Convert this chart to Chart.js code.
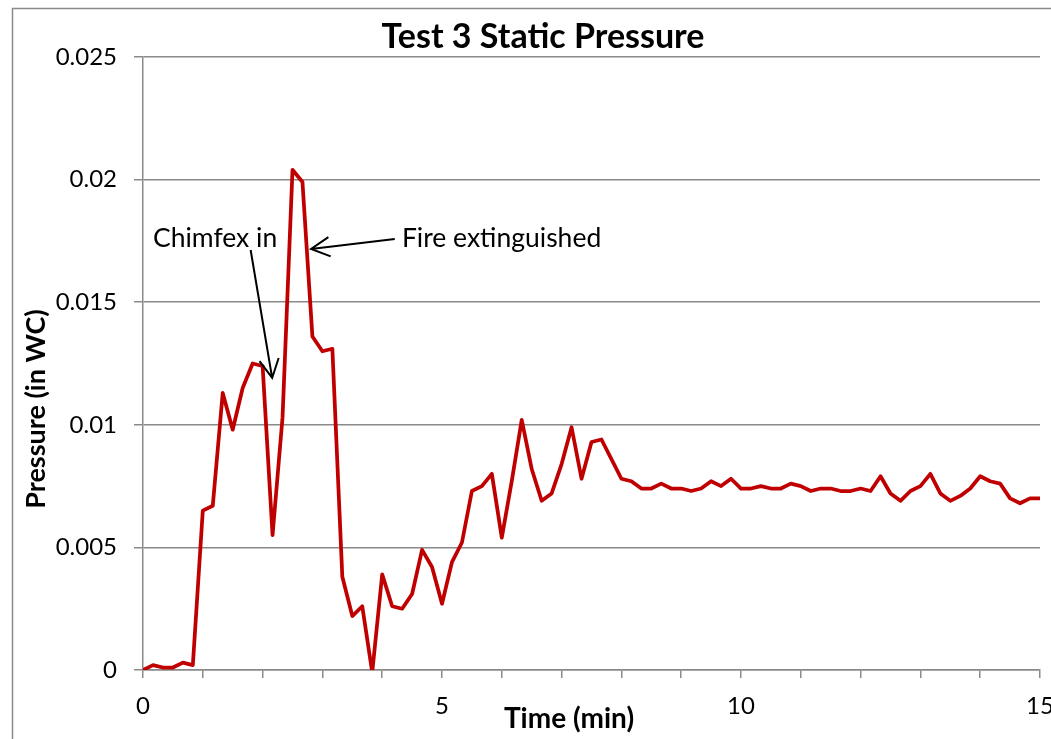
<!DOCTYPE html>
<html>
<head>
<meta charset="utf-8">
<script src="https://cdn.jsdelivr.net/npm/chart.js@4.4.0/dist/chart.umd.min.js"></script>
<style>
  html, body { margin: 0; padding: 0; background: #fff; overflow: hidden; }
  #wrap { width: 1051px; height: 739px; }
</style>
</head>
<body>
<div id="wrap"><canvas id="myChart" width="1051" height="739"></canvas></div>
<script>
// time of each reading, seconds
const timeSec = [
  0, 10, 20, 30, 40, 50, 60, 70, 80, 90,
  100, 110, 120, 130, 140, 150, 160, 170, 180, 190,
  200, 210, 220, 230, 240, 250, 260, 270, 280, 290,
  300, 310, 320, 330, 340, 350, 360, 370, 380, 390,
  400, 410, 420, 430, 440, 450, 460, 470, 480, 490,
  500, 510, 520, 530, 540, 550, 560, 570, 580, 590,
  600, 610, 620, 630, 640, 650, 660, 670, 680, 690,
  700, 710, 720, 730, 740, 750, 760, 770, 780, 790,
  800, 810, 820, 830, 840, 850, 860, 870, 880, 890,
  900
];

// static pressure, in WC
const pressure = [
  0, 0.0002, 0.0001, 0.0001, 0.0003, 0.0002, 0.0065, 0.0067, 0.0113, 0.0098,
  0.0115, 0.0125, 0.0124, 0.0055, 0.0103, 0.0204, 0.0199, 0.0136, 0.0130, 0.0131,
  0.0038, 0.0022, 0.0026, -0.0001, 0.0039, 0.0026, 0.0025, 0.0031, 0.0049, 0.0042,
  0.0027, 0.0044, 0.0052, 0.0073, 0.0075, 0.0080, 0.0054, 0.0077, 0.0102, 0.0082,
  0.0069, 0.0072, 0.0084, 0.0099, 0.0078, 0.0093, 0.0094, 0.0086, 0.0078, 0.0077,
  0.0074, 0.0074, 0.0076, 0.0074, 0.0074, 0.0073, 0.0074, 0.0077, 0.0075, 0.0078,
  0.0074, 0.0074, 0.0075, 0.0074, 0.0074, 0.0076, 0.0075, 0.0073, 0.0074, 0.0074,
  0.0073, 0.0073, 0.0074, 0.0073, 0.0079, 0.0072, 0.0069, 0.0073, 0.0075, 0.0080,
  0.0072, 0.0069, 0.0071, 0.0074, 0.0079, 0.0077, 0.0076, 0.0070, 0.0068, 0.0070,
  0.0070
];

const xLabelTicks = [0, 5, 10, 15];
const yTickValues = [0, 0.005, 0.01, 0.015, 0.02, 0.025];

const chartTitle = 'Test 3 Static Pressure';
const xTitle = 'Time (min)';
const yTitle = 'Pressure (in WC)';

// callouts, anchored in data units (min, in WC)
const notes = [
  { text: 'Chimfex in', at: [0.167, 0.01725], from: [1.80, 0.01713], to: [2.16, 0.01191] },
  { text: 'Fire extinguished', at: [4.33, 0.01725], from: [4.21, 0.01758], to: [2.81, 0.01717] }
];

const gridGrey = '#8a8a8a';
const fontName = 'Lato';

const points = timeSec.map((s, i) => ({ x: s / 60, y: pressure[i] }));

const drawArrow = (ctx, x1, y1, x2, y2, head) => {
  const ang = Math.atan2(y2 - y1, x2 - x1);
  ctx.beginPath();
  ctx.moveTo(x1, y1);
  ctx.lineTo(x2, y2);
  ctx.moveTo(x2 - head * Math.cos(ang - 0.48), y2 - head * Math.sin(ang - 0.48));
  ctx.lineTo(x2, y2);
  ctx.lineTo(x2 - head * Math.cos(ang + 0.48), y2 - head * Math.sin(ang + 0.48));
  ctx.stroke();
};

const extrasPlugin = {
  id: 'extras',
  beforeDraw(chart) {
    const ctx = chart.ctx;
    ctx.save();
    ctx.fillStyle = '#fff';
    ctx.fillRect(0, 0, chart.width, chart.height);
    ctx.strokeStyle = gridGrey;
    ctx.lineWidth = 1.5;
    ctx.strokeRect(12.5, 8.5, chart.width + 40, chart.height + 40);
    ctx.restore();
  },
  afterDraw(chart) {
    const ctx = chart.ctx;
    const xs = chart.scales.x;
    const ys = chart.scales.y;
    ctx.save();
    ctx.fillStyle = '#000';

    ctx.font = 'bold 34px ' + fontName;
    ctx.textAlign = 'center';
    ctx.textBaseline = 'alphabetic';
    ctx.fillText(chartTitle, 543, 48);

    ctx.font = 'bold 28px ' + fontName;
    ctx.fillText(xTitle, 569, 728);

    ctx.font = 'bold 27px ' + fontName;
    ctx.translate(45, 409);
    ctx.rotate(-Math.PI / 2);
    ctx.fillText(yTitle, 0, 0);
    ctx.setTransform(1, 0, 0, 1, 0, 0);

    ctx.font = '26.5px ' + fontName;
    ctx.textAlign = 'left';
    ctx.strokeStyle = '#000';
    ctx.lineWidth = 2;
    notes.forEach((n) => {
      ctx.fillText(n.text, xs.getPixelForValue(n.at[0]), ys.getPixelForValue(n.at[1]));
      drawArrow(ctx,
        xs.getPixelForValue(n.from[0]), ys.getPixelForValue(n.from[1]),
        xs.getPixelForValue(n.to[0]), ys.getPixelForValue(n.to[1]), 21);
    });
    ctx.restore();
  }
};

Chart.defaults.font.family = fontName;
Chart.defaults.color = '#000';

const chart = new Chart(document.getElementById('myChart'), {
  type: 'scatter',
  data: {
    datasets: [{
      label: 'Static pressure',
      data: points,
      showLine: true,
      borderColor: '#c00000',
      backgroundColor: '#c00000',
      borderWidth: 3.75,
      borderJoinStyle: 'round',
      pointRadius: 0,
      tension: 0
    }]
  },
  options: {
    responsive: false,
    animation: false,
    layout: { padding: { top: 57, right: 11, left: 0, bottom: 0 } },
    plugins: {
      legend: { display: false },
      title: { display: false },
      tooltip: { enabled: false }
    },
    scales: {
      x: {
        type: 'linear',
        min: 0,
        max: 15,
        afterFit: (scale) => {
          scale.height = 69;
          scale.paddingLeft = 0;
          scale.paddingRight = 0;
        },
        border: { display: true, color: gridGrey, width: 1.5 },
        grid: { drawOnChartArea: false, drawTicks: true, tickLength: 8, color: gridGrey, lineWidth: 1.5 },
        ticks: {
          stepSize: 1,
          autoSkip: false,
          maxRotation: 0,
          padding: 14,
          font: { size: 24 },
          callback: (v) => (xLabelTicks.includes(v) ? String(v) : '')
        }
      },
      y: {
        min: 0,
        max: 0.025,
        afterFit: (scale) => { scale.width = 143; },
        afterBuildTicks: (scale) => { scale.ticks = yTickValues.map((v) => ({ value: v })); },
        border: { display: true, color: gridGrey, width: 1.5 },
        grid: { color: gridGrey, lineWidth: 1.5, tickLength: 9 },
        ticks: {
          padding: 17,
          font: { size: 24 },
          callback: (v) => String(parseFloat(v.toFixed(3)))
        }
      }
    }
  },
  plugins: [extrasPlugin]
});
</script>
</body>
</html>
